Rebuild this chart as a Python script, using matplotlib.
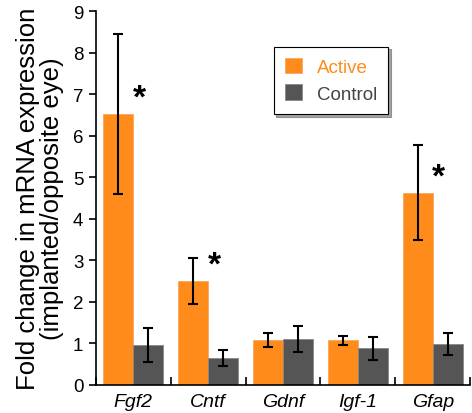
import numpy as np
import matplotlib.pyplot as plt

plt.rcParams['font.family'] = ['Liberation Sans', 'DejaVu Sans']

genes = ['Fgf2', 'Cntf', 'Gdnf', 'Igf-1', 'Gfap']
active = [6.52, 2.50, 1.08, 1.07, 4.62]
active_lo = [4.60, 1.95, 0.92, 0.97, 3.48]
active_hi = [8.45, 3.05, 1.25, 1.17, 5.77]
control = [0.96, 0.65, 1.10, 0.88, 0.99]
control_lo = [0.55, 0.45, 0.78, 0.60, 0.73]
control_hi = [1.38, 0.85, 1.42, 1.15, 1.25]
signif = [True, True, False, False, True]

orange = '#FF8C1A'
grey = '#555555'

fig = plt.figure(figsize=(4.72, 4.14), dpi=100)
ax = fig.add_axes([0.203, 0.068, 0.793, 0.903])

x = np.arange(len(genes))
w = 0.4
act = np.array(active)
con = np.array(control)
ax.bar(x - w / 2, act, w, color=orange, edgecolor='#F5A860', linewidth=0.6)
ax.bar(x + w / 2, con, w, color=grey, edgecolor='#888888', linewidth=0.6)
ax.errorbar(x - w / 2, act, yerr=[act - np.array(active_lo), np.array(active_hi) - act],
            fmt='none', ecolor='black', elinewidth=1.5, capsize=3.5, capthick=1.5)
ax.errorbar(x + w / 2, con, yerr=[con - np.array(control_lo), np.array(control_hi) - con],
            fmt='none', ecolor='black', elinewidth=1.5, capsize=3.5, capthick=1.5)

for i, s in enumerate(signif):
    if s:
        ax.text(x[i] + 0.08, active[i] + 0.38, '*', fontsize=24, fontweight='bold',
                ha='center', va='center')

ax.set_xlim(-0.5, len(genes) - 0.5)
ax.set_ylim(0, 9)
ax.set_yticks(range(10))
ax.tick_params(axis='y', direction='out', length=5, width=1.2, labelsize=13.5, pad=4)
ax.set_xticks(np.arange(len(genes) + 1) - 0.5)
ax.set_xticklabels([])
ax.tick_params(axis='x', direction='in', length=6, width=1.2)
for i, g in enumerate(genes):
    ax.text(x[i], -0.2, g, ha='center', va='top', fontsize=14, style='italic',
            transform=ax.transData)
ax.spines['top'].set_visible(False)
ax.spines['right'].set_visible(False)
ax.spines['left'].set_linewidth(1.2)
ax.spines['bottom'].set_linewidth(1.2)

ax.set_ylabel('Fold change in mRNA expression\n(implanted/opposite eye)', fontsize=18.5,
              labelpad=6, linespacing=1.05)

leg = ax.legend(['Active', 'Control'], loc='upper left', bbox_to_anchor=(0.45, 0.93),
                fontsize=13.5, frameon=True, fancybox=False, shadow=True,
                handlelength=0.9, handleheight=0.9, borderpad=0.6, labelspacing=0.45,
                handletextpad=0.8)
leg.get_frame().set_edgecolor('black')
leg.get_frame().set_linewidth(0.8)
leg.get_texts()[0].set_color(orange)
leg.get_texts()[1].set_color('#444444')

fig.savefig('out.png', dpi=100)
